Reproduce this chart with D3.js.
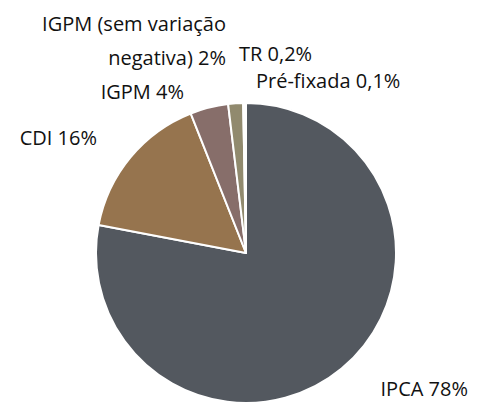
<!DOCTYPE html>
<meta charset="utf-8">
<script src="https://d3js.org/d3.v7.min.js"></script>
<style>
body {margin: 0; background: #fff;}
.lbl {font-family: "Open Sans", sans-serif; font-size: 20px; fill: #111;}
</style>
<body>
<div id="chart"></div>
<script>
// shares of the portfolio by index
var names  = ["IPCA", "CDI", "IGPM", "IGPM (sem variação negativa)", "TR", "Pré-fixada"];
var values = [78, 16, 4.1, 1.6, 0.2, 0.1];
var labels = [["IPCA 78%"], ["CDI 16%"], ["IGPM 4%"], ["IGPM (sem variação", "negativa) 2%"], ["TR 0,2%"], ["Pré-fixada 0,1%"]];
var colors = ["#53585f", "#96744e", "#876e6a", "#918a6e", "#a5a39a", "#c9c2b0"];

var width = 477, height = 405,
    cx = 246, cy = 253, radius = 150;

var svg = d3.select("#chart")
  .append("svg")
    .attr("width", width)
    .attr("height", height);

var g = svg.append("g")
  .attr("transform", "translate(" + cx + "," + cy + ")");

var pie = d3.pie().sort(null).value(function(d) { return d; });
var arc = d3.arc().innerRadius(0).outerRadius(radius);
var arcs = pie(values);

g.selectAll("path")
  .data(arcs)
  .enter()
  .append("path")
    .attr("d", arc)
    .attr("fill", function(d, i) { return colors[i]; })
    .attr("stroke", "#fff")
    .attr("stroke-width", 2)
    .attr("stroke-linejoin", "round");

// label anchor points, placed by hand like the original
var labelPos = [
  {x: 468, y: 396, anchor: "end"},
  {x: 97,  y: 145, anchor: "end"},
  {x: 184, y: 99,  anchor: "end"},
  {x: 226, y: 31,  anchor: "end", dy: 34},
  {x: 239, y: 61,  anchor: "start"},
  {x: 256, y: 88,  anchor: "start"}
];

labels.forEach(function(lines, i) {
  var p = labelPos[i];
  var t = svg.append("text")
    .attr("class", "lbl")
    .attr("text-anchor", p.anchor);
  lines.forEach(function(line, j) {
    t.append("tspan")
      .attr("x", p.x)
      .attr("y", p.y + j * (p.dy || 0))
      .text(line);
  });
});
</script>
</body>
